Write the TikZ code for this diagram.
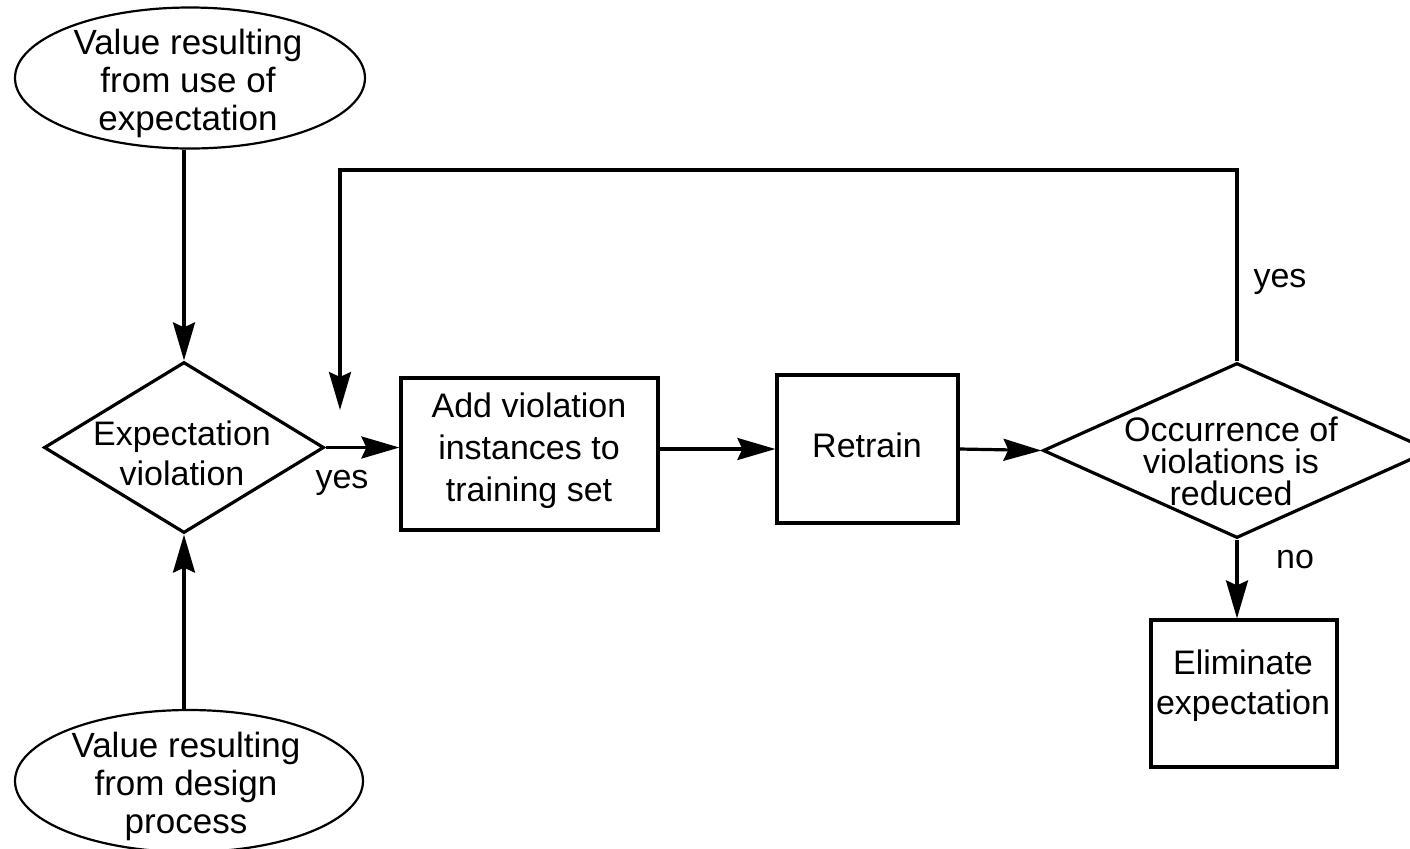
\documentclass[tikz,border=0pt]{standalone}
\usepackage{fontspec}
\setmainfont{Liberation Sans}
\usetikzlibrary{arrows.meta,shapes.geometric}

\tikzset{
  flow/.style={line width=1.6pt},
  arr/.style={flow, -{Stealth[length=19pt,width=11pt,inset=2.5pt]}},
  oval/.style={ellipse, draw, line width=1.1pt, inner sep=0pt},
  stepbox/.style={rectangle, draw, line width=1.6pt, inner sep=0pt},
  decision/.style={diamond, draw, line width=1.6pt, inner sep=0pt, aspect=1},
  txt/.style={align=center, inner sep=0pt, font=\fontsize{17pt}{20pt}\selectfont},
  ovaltxt/.style={txt, font=\fontsize{17.5pt}{19pt}\selectfont},
  lbl/.style={inner sep=0pt, anchor=base, font=\fontsize{17pt}{20pt}\selectfont},
}

\begin{document}
\begin{tikzpicture}[x=0.5pt, y=-0.5pt]
  \useasboundingbox (0,0) rectangle (1410,848);

  % inputs
  \node[oval, minimum width=175pt, minimum height=70.5pt] (e1) at (190,78) {};
  \node[ovaltxt] (e1t) at (188,83) {Value resulting\\from use of\\expectation};
  \node[oval, minimum width=174pt, minimum height=71pt] (e2) at (189,781) {};
  \node[ovaltxt] (e2t) at (186,786) {Value resulting\\from design\\process};

  % first decision
  \node[decision, minimum width=140pt, minimum height=85.5pt] (d1) at (184,447.5) {};
  \node[txt] (d1t) at (182,453) {Expectation\\violation};

  % process steps
  \node[stepbox, minimum width=128.5pt, minimum height=76pt] (b1) at (529.5,454) {};
  \node[txt, font=\fontsize{17pt}{21pt}\selectfont] (b1t) at (529,451) {Add violation\\instances to\\training set};
  \node[stepbox, minimum width=90.5pt, minimum height=74pt] (b2) at (867.5,449) {};
  \node[txt] (b2t) at (867,445) {Retrain};

  % second decision
  \node[decision, minimum width=194pt, minimum height=87.5pt] (d2) at (1237,450.5) {};
  \node[txt, font=\fontsize{17pt}{16pt}\selectfont] (d2t) at (1231,461) {Occurrence of\\violations is\\reduced};

  \node[stepbox, minimum width=93pt, minimum height=73.5pt] (b3) at (1244,693.5) {};
  \node[txt] (b3t) at (1243,686) {Eliminate\\expectation};

  % connectors
  \draw[arr] (d1.north |- e1.south) -- (d1.north);
  \draw[arr] (d1.south |- e2.north) -- (d1.south);
  \draw[arr] (d1.east) -- (d1.east -| b1.west);
  \draw[arr] (b2.west -| b1.east) -- (b2.west);
  \draw[arr] (b2.east) -- (d2.west);
  \draw[arr] (d2.south) -- (d2.south |- b3.north);

  \coordinate (fbturn) at (340,170);
  \coordinate (fbend) at (340,410);
  \draw[arr] (d2.north) |- (fbturn) -- (fbend);

  % branch labels
  \node[lbl] (yes1) at (342,488) {yes};
  \node[lbl] (yes2) at (1280,287) {yes};
  \node[lbl] (no1) at (1295,568) {no};
\end{tikzpicture}
\end{document}
